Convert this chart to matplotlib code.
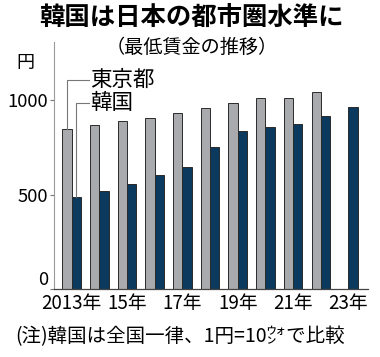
import matplotlib
matplotlib.use("Agg")
import matplotlib.pyplot as plt
import numpy as np

# 最低賃金(円)、韓国は1円=10ウォン換算
YEARS = [2013, 2014, 2015, 2016, 2017, 2018, 2019, 2020, 2021, 2022, 2023]
TOKYO = [850, 869, 888, 907, 932, 958, 985, 1013, 1013, 1041, np.nan]
KOREA = [486, 521, 558, 603, 647, 753, 835, 859, 872, 916, 962]
XLABELS = {2013: "2013年", 2015: "15年", 2017: "17年", 2019: "19年", 2021: "21年", 2023: "23年"}
YTICKS = [0, 500, 1000]

FONT = ["Liberation Sans Narrow", "Noto Sans CJK JP", "DejaVu Sans"]
plt.rcParams["font.family"] = FONT

GRAY = "#a9aaad"
NAVY = "#0c3a5e"
EDGE = "#2a2a2a"

fig = plt.figure(figsize=(3.8, 3.57), dpi=100)
ax = fig.add_axes([0.142, 0.19, 0.826, 0.692])

x = np.arange(len(YEARS))
bw = 0.335
ax.bar(x - bw / 2, TOKYO, bw, color=GRAY, edgecolor=EDGE, linewidth=0.7)
ax.bar(x + bw / 2, KOREA, bw, color=NAVY, edgecolor=EDGE, linewidth=0.7)

ax.set_xlim(-0.64, 10.7)
ax.set_ylim(0, 1307)

for s in ["top", "right"]:
    ax.spines[s].set_visible(False)
ax.spines["left"].set_color("#9a9a9a")
ax.spines["left"].set_linewidth(0.8)
ax.spines["bottom"].set_color("#444444")
ax.spines["bottom"].set_linewidth(0.9)

ax.set_yticks(YTICKS, [str(v) for v in YTICKS], fontsize=13.3)
ax.tick_params(axis="y", length=3, width=0.8, color="#777777", pad=1)
ax.get_yticklabels()[0].set_verticalalignment("bottom")

xt = [YEARS.index(y) for y in XLABELS]
ax.set_xticks(xt, list(XLABELS.values()), fontsize=13.5)
ax.tick_params(axis="x", length=0, pad=3)

# 凡例の引き出し線
lx = 0.64
ax.plot([-bw / 2, -bw / 2, lx], [TOKYO[0], 1106, 1106], color="#777777", lw=0.8, clip_on=False)
ax.plot([bw / 2, bw / 2, lx], [KOREA[0], 984, 984], color="#777777", lw=0.8, clip_on=False)
ax.text(lx + 0.02, 1106, "東京都", fontsize=15.5, va="center", ha="left")
ax.text(lx + 0.02, 984, "韓国", fontsize=15.5, va="center", ha="left")

fig.text(0.504, 0.952, "韓国は日本の都市圏水準に", fontsize=18.3, fontweight="bold",
         ha="center", va="center", family=["Noto Sans CJK JP"])
fig.text(0.505, 0.868, "（最低賃金の推移）", fontsize=13.8, ha="center", va="center",
         family=["Noto Sans CJK JP"])
fig.text(0.068, 0.823, "円", fontsize=13, ha="center", va="center")
fig.text(0.04, 0.057, "(注)韓国は全国一律、1円=10㌆で比較", fontsize=14, ha="left", va="center")

fig.savefig("out.png", dpi=100)
